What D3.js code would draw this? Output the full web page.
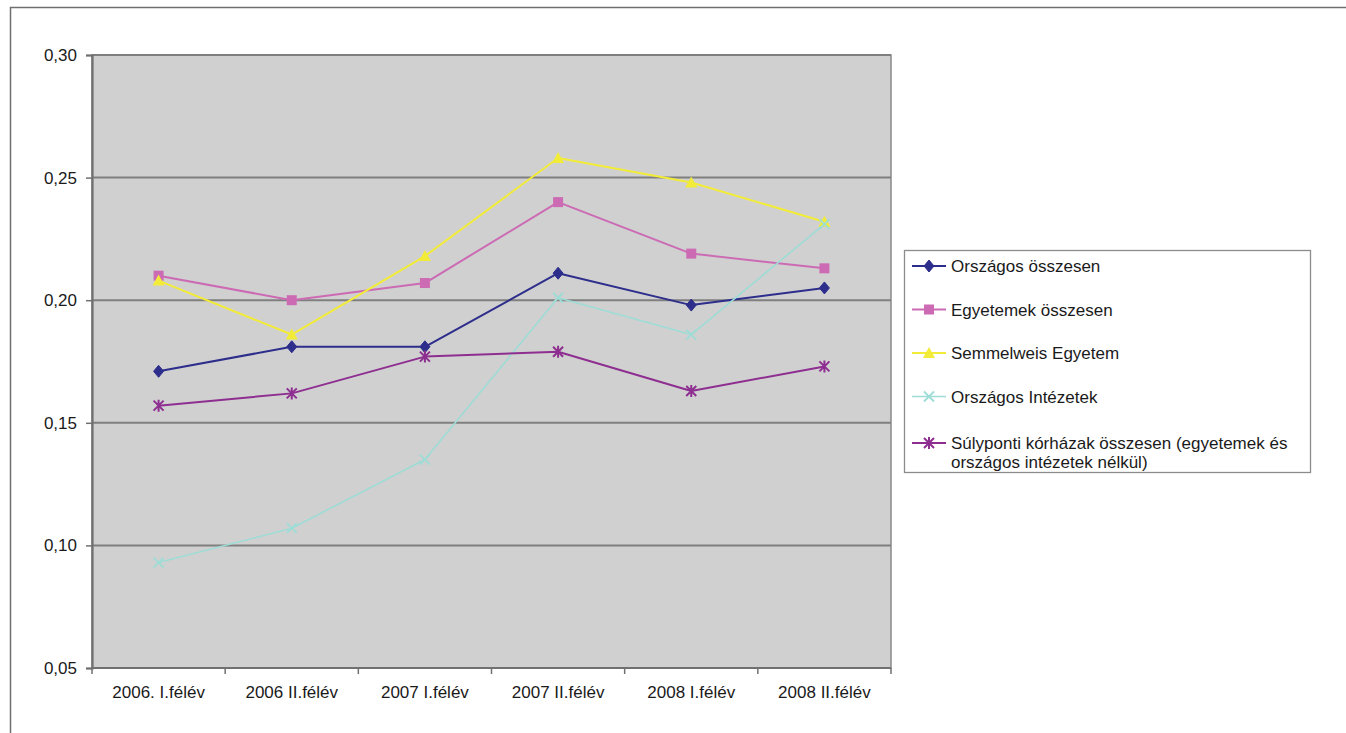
<!DOCTYPE html>
<html>
<head>
<meta charset="utf-8">
<script src="https://cdn.jsdelivr.net/npm/d3@7/dist/d3.min.js"></script>
<style>
  html, body { margin: 0; padding: 0; background: #ffffff; }
  svg { display: block; }
  text { font-family: "Liberation Sans", Arial, sans-serif; fill: #1a1a1a; }
</style>
</head>
<body>
<svg id="chart" width="1346" height="733"></svg>
<script>
// Félévek (semesters)
const categories = ["2006. I.félév", "2006 II.félév", "2007 I.félév", "2007 II.félév", "2008 I.félév", "2008 II.félév"];

const orszagosOsszesen = [0.171, 0.181, 0.181, 0.211, 0.198, 0.205];
const egyetemekOsszesen = [0.210, 0.200, 0.207, 0.240, 0.219, 0.213];
const semmelweis = [0.208, 0.186, 0.218, 0.258, 0.248, 0.232];
const orszagosIntezetek = [0.093, 0.107, 0.135, 0.201, 0.186, 0.231];
const sulyponti = [0.157, 0.162, 0.177, 0.179, 0.163, 0.173];

const yTicks = [0.05, 0.10, 0.15, 0.20, 0.25, 0.30];

const seriesNames = [
  "Országos összesen",
  "Egyetemek összesen",
  "Semmelweis Egyetem",
  "Országos Intézetek",
  "Súlyponti kórházak összesen (egyetemek és|országos intézetek nélkül)"
];

const series = [
  { name: seriesNames[0], values: orszagosOsszesen, color: "#2d2d8c", marker: "diamond", width: 2 },
  { name: seriesNames[1], values: egyetemekOsszesen, color: "#cc6ab4", marker: "square", width: 2 },
  { name: seriesNames[2], values: semmelweis, color: "#f2ec38", marker: "triangle", width: 2 },
  { name: seriesNames[3], values: orszagosIntezetek, color: "#9edcd6", marker: "cross", width: 1.6 },
  { name: seriesNames[4], values: sulyponti, color: "#8e2e91", marker: "asterisk", width: 2 }
];

const svg = d3.select("#chart");

// Outer chart frame
svg.append("rect")
  .attr("x", 10.5).attr("y", 7.5)
  .attr("width", 1400).attr("height", 800)
  .attr("fill", "#ffffff")
  .attr("stroke", "#6f6f6f").attr("stroke-width", 1.5);

const plot = { left: 92, right: 891, top: 55, bottom: 668 };

const x = d3.scaleBand().domain(categories).range([plot.left, plot.right]).padding(0);
const y = d3.scaleLinear().domain([0.05, 0.30]).range([plot.bottom, plot.top]);
const cx = d => x(d) + x.bandwidth() / 2;

// Plot background
svg.append("rect")
  .attr("x", plot.left).attr("y", plot.top)
  .attr("width", plot.right - plot.left).attr("height", plot.bottom - plot.top)
  .attr("fill", "#d0d0d0")
  .attr("stroke", "#8a8a8a").attr("stroke-width", 1.5);

// Horizontal gridlines
svg.append("g").selectAll("line")
  .data(yTicks.filter(v => v > 0.05))
  .join("line")
  .attr("x1", plot.left).attr("x2", plot.right)
  .attr("y1", d => y(d)).attr("y2", d => y(d))
  .attr("stroke", "#7f7f7f").attr("stroke-width", 2);

// Y axis
const fmt = d => d3.format(".2f")(d).replace(".", ",");
const yAxis = svg.append("g")
  .attr("transform", `translate(${plot.left},0)`)
  .call(d3.axisLeft(y).tickValues(yTicks).tickFormat(fmt).tickSize(6).tickPadding(9));
yAxis.select(".domain").attr("stroke", "#707070").attr("stroke-width", 2.2);
yAxis.selectAll(".tick line").attr("stroke", "#707070").attr("stroke-width", 1.5);
yAxis.selectAll(".tick text")
  .attr("font-size", 17)
  .attr("font-family", "Liberation Sans, Arial, sans-serif")
  .attr("fill", "#1a1a1a");

// X axis (ticks at category boundaries)
const xAxisG = svg.append("g")
  .attr("transform", `translate(0,${plot.bottom})`);
xAxisG.append("line")
  .attr("x1", plot.left).attr("x2", plot.right)
  .attr("y1", 0).attr("y2", 0)
  .attr("stroke", "#707070").attr("stroke-width", 2.2);
const boundaries = categories.map(c => x(c)).concat([x(categories[categories.length - 1]) + x.bandwidth()]);
xAxisG.selectAll("line.tk")
  .data(boundaries)
  .join("line")
  .attr("class", "tk")
  .attr("x1", d => d).attr("x2", d => d)
  .attr("y1", 0).attr("y2", 6)
  .attr("stroke", "#707070").attr("stroke-width", 1.5);
xAxisG.selectAll("text")
  .data(categories)
  .join("text")
  .attr("x", d => cx(d))
  .attr("y", 30)
  .attr("text-anchor", "middle")
  .attr("font-size", 17)
  .text(d => d);

// Marker shapes
function drawMarker(g, type, color, px, py) {
  const s = 5;
  if (type === "diamond") {
    g.append("path")
      .attr("d", `M${px},${py - s - 1}L${px + s},${py}L${px},${py + s + 1}L${px - s},${py}Z`)
      .attr("fill", color).attr("stroke", color).attr("stroke-width", 1);
  } else if (type === "square") {
    g.append("rect")
      .attr("x", px - s).attr("y", py - s).attr("width", 2 * s).attr("height", 2 * s)
      .attr("fill", color);
  } else if (type === "triangle") {
    g.append("path")
      .attr("d", `M${px},${py - s - 1}L${px + s + 1},${py + s}L${px - s - 1},${py + s}Z`)
      .attr("fill", color);
  } else if (type === "cross") {
    g.append("path")
      .attr("d", `M${px - s},${py - s}L${px + s},${py + s}M${px + s},${py - s}L${px - s},${py + s}`)
      .attr("stroke", color).attr("stroke-width", 1.8).attr("fill", "none");
  } else if (type === "asterisk") {
    g.append("path")
      .attr("d", `M${px - s},${py - s}L${px + s},${py + s}M${px + s},${py - s}L${px - s},${py + s}M${px},${py - s - 1}L${px},${py + s + 1}`)
      .attr("stroke", color).attr("stroke-width", 2).attr("fill", "none");
  }
}

// Series lines and markers
const line = d3.line().x(d => cx(d.cat)).y(d => y(d.v));
series.forEach(s => {
  const pts = s.values.map((v, i) => ({ cat: categories[i], v }));
  const g = svg.append("g");
  g.append("path")
    .datum(pts)
    .attr("d", line)
    .attr("fill", "none")
    .attr("stroke", s.color)
    .attr("stroke-width", s.width)
    .attr("stroke-linejoin", "round");
  pts.forEach(p => drawMarker(g, s.marker, s.color, cx(p.cat), y(p.v)));
});

// Legend
const legend = svg.append("g");
legend.append("rect")
  .attr("x", 904.5).attr("y", 250.5)
  .attr("width", 406).attr("height", 222)
  .attr("fill", "#ffffff")
  .attr("stroke", "#8c8c8c").attr("stroke-width", 1.3);

const legendY = [266, 309.5, 353, 396.5, 443];
series.forEach((s, i) => {
  const ly = legendY[i];
  legend.append("line")
    .attr("x1", 912).attr("x2", 946)
    .attr("y1", ly).attr("y2", ly)
    .attr("stroke", s.color).attr("stroke-width", s.width);
  drawMarker(legend, s.marker, s.color, 929, ly);
  s.name.split("|").forEach((t, j) => {
    legend.append("text")
      .attr("x", 951)
      .attr("y", ly + 6 + j * 18.5)
      .attr("font-size", 17)
      .text(t);
  });
});
</script>
</body>
</html>
